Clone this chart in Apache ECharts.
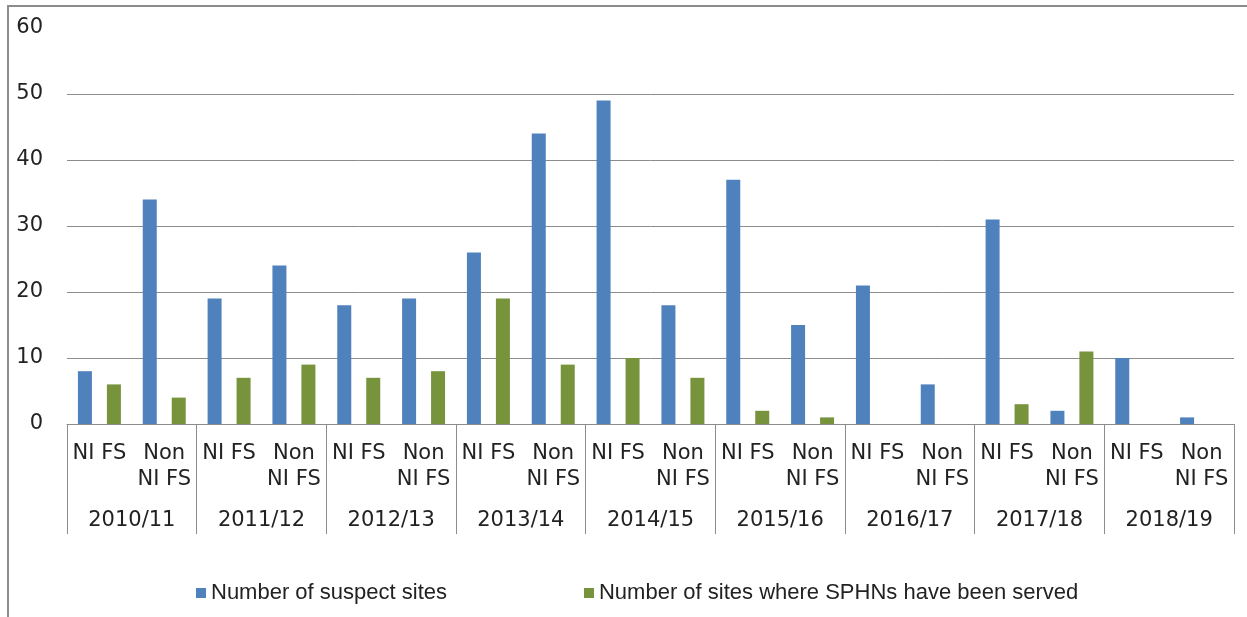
<!DOCTYPE html>
<html>
<head>
<meta charset="utf-8">
<script src="https://cdn.jsdelivr.net/npm/echarts@6/dist/echarts.min.js"></script>
<style>
  html, body { margin: 0; padding: 0; background: #fff; }
  #chart { width: 1247px; height: 617px; }
</style>
</head>
<body>
<div id="chart"></div>
<script>
// sub-categories, two per year
const categories = [
  'NI FS', 'Non\nNI FS', 'NI FS', 'Non\nNI FS', 'NI FS', 'Non\nNI FS',
  'NI FS', 'Non\nNI FS', 'NI FS', 'Non\nNI FS', 'NI FS', 'Non\nNI FS',
  'NI FS', 'Non\nNI FS', 'NI FS', 'Non\nNI FS', 'NI FS', 'Non\nNI FS'
];
const years = ['2010/11', '2011/12', '2012/13', '2013/14', '2014/15', '2015/16', '2016/17', '2017/18', '2018/19'];

const suspectSites = [8, 34, 19, 24, 18, 19, 26, 44, 49, 18, 37, 15, 21, 6, 31, 2, 10, 1];
const sphnSites = [6, 4, 7, 9, 7, 8, 19, 9, 10, 7, 2, 1, 0, 0, 3, 11, 0, 0];

const seriesNames = ['Number of suspect sites', 'Number of sites where SPHNs have been served'];

const gridCol = '#8c8c8c';
const labelFont = 'DejaVu Sans';

const myChart = echarts.init(document.getElementById('chart'));

const option = {
  animation: false,
  backgroundColor: '#fff',
  graphic: [
    {
      type: 'rect',
      shape: { x: 8, y: 6, width: 1260, height: 640 },
      style: { fill: 'none', stroke: gridCol, lineWidth: 2 },
      silent: true
    }
  ],
  grid: { left: 67, right: 13, top: 28, bottom: 193 },
  legend: {
    data: seriesNames,
    left: 191,
    top: 577,
    icon: 'rect',
    itemWidth: 10,
    itemHeight: 10,
    itemGap: 137,
    textStyle: { fontFamily: 'Liberation Sans', fontSize: 22, color: '#222' }
  },
  xAxis: [
    {
      type: 'category',
      data: categories,
      axisLine: { show: true, lineStyle: { color: gridCol, width: 1 } },
      axisTick: { show: false },
      axisLabel: {
        interval: 0,
        margin: 17,
        fontFamily: labelFont,
        fontSize: 21,
        lineHeight: 26,
        color: '#222',
        verticalAlign: 'top'
      }
    },
    {
      type: 'category',
      data: years,
      position: 'bottom',
      axisLine: { show: false },
      axisTick: { show: true, length: 110, lineStyle: { color: gridCol, width: 1 } },
      axisLabel: {
        interval: 0,
        margin: 86,
        fontFamily: labelFont,
        fontSize: 21,
        color: '#222'
      }
    }
  ],
  yAxis: {
    type: 'value',
    min: 0,
    max: 60,
    interval: 10,
    axisLine: { show: false },
    axisTick: { show: false },
    axisLabel: { margin: 24, fontFamily: labelFont, fontSize: 21, color: '#222' },
    splitLine: {
      lineStyle: {
        color: [gridCol, gridCol, gridCol, gridCol, gridCol, gridCol, 'rgba(0,0,0,0)'],
        width: 1
      }
    }
  },
  series: [
    {
      name: seriesNames[0],
      type: 'bar',
      xAxisIndex: 0,
      barWidth: 14,
      barGap: '107%',
      itemStyle: { color: '#4f81bd' },
      data: suspectSites
    },
    {
      name: seriesNames[1],
      type: 'bar',
      xAxisIndex: 0,
      barWidth: 14,
      itemStyle: { color: '#77933c' },
      data: sphnSites
    }
  ]
};

myChart.setOption(option);
</script>
</body>
</html>
